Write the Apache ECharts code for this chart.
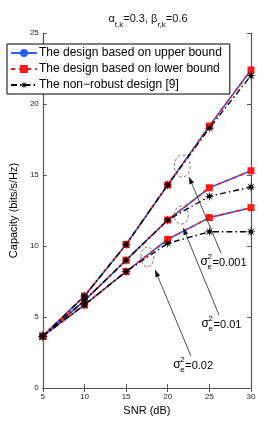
<!DOCTYPE html>
<html><head><meta charset="utf-8">
<script src="https://cdn.jsdelivr.net/npm/echarts@6/dist/echarts.min.js"></script>
<style>html,body{margin:0;padding:0;background:#fff}#c{width:277px;height:437px}</style>
</head><body><div id="c"></div>
<script>
const snr = [5, 10, 15, 20, 25, 30];
const xTicks = [5, 10, 15, 20, 25, 30];
const yTicks = [0, 5, 10, 15, 20, 25];
// sigma_e^2 = 0.001
const upperA = [3.65, 6.48, 10.1, 14.3, 18.45, 22.4];
const lowerA = [3.65, 6.48, 10.1, 14.3, 18.45, 22.4];
const nonA   = [3.65, 6.48, 10.1, 14.3, 18.3, 22.0];
// sigma_e^2 = 0.01
const upperB = [3.65, 6.15, 9.0, 11.83, 14.1, 15.3];
const lowerB = [3.65, 6.15, 9.0, 11.83, 14.1, 15.3];
const nonB   = [3.65, 6.15, 9.0, 11.83, 13.5, 14.15];
// sigma_e^2 = 0.02
const upperC = [3.65, 5.85, 8.2, 10.47, 12.0, 12.7];
const lowerC = [3.65, 5.85, 8.2, 10.47, 12.0, 12.7];
const nonC   = [3.65, 5.85, 8.2, 10.19, 11.0, 11.0];

const names = ['The design based on upper bound', 'The design based on lower bound', 'The non\u2212robust design [9]'];

// annotations in data coordinates
const ellipses = [
  {x: 21.74, y: 15.63, rx: 8, ry: 11},
  {x: 21.63, y: 12.18, rx: 7, ry: 9},
  {x: 17.56, y: 9.23, rx: 6.5, ry: 10}
];
const arrows = [
  {from: [26.4, 9.5], to: [22.56, 14.86]},
  {from: [26.16, 5.14], to: [21.86, 11.27]},
  {from: [22.79, 2.25], to: [18.49, 8.31]}
];
const labels = [
  {x: 23.95, y: 8.87, v: '0.001'},
  {x: 24.07, y: 4.5, v: '0.01'},
  {x: 20.66, y: 1.62, v: '0.02'}
];

const star = (function(){
  let p = 'path://';
  const n = 8, R = 10, r = 3.4;
  for (let i = 0; i < 2*n; i++) {
    const a = Math.PI * i / n - Math.PI/2;
    const rad = i % 2 === 0 ? R : r;
    p += (i === 0 ? 'M' : 'L') + (10 + rad*Math.cos(a)).toFixed(2) + ' ' + (10 + rad*Math.sin(a)).toFixed(2) + ' ';
  }
  return p + 'Z';
})();

function pts(arr){ return snr.map((x,i)=>[x, arr[i]]); }

function upper(arr){
  return {name: names[0], type:'line', data: pts(arr), symbol:'circle', symbolSize:6,
    itemStyle:{color:'#2e5bff'}, lineStyle:{color:'#2e5bff', width:1.6, type:'solid'}, z:2, animation:false};
}
function lower(arr){
  return {name: names[1], type:'line', data: pts(arr), symbol:'rect', symbolSize:7,
    itemStyle:{color:'#ff1a1a'}, lineStyle:{color:'#ff1a1a', width:1.6, type:[4,4]}, z:3, animation:false};
}
function nonr(arr){
  return {name: names[2], type:'line', data: pts(arr), symbol: star, symbolSize:10,
    itemStyle:{color:'#000'}, lineStyle:{color:'#000', width:1.4, type:[6,3,1.5,3]}, z:4, animation:false};
}

const axisCommon = {
  axisLine:{lineStyle:{color:'#555', width:1.2}},
  axisTick:{inside:true, length:4, lineStyle:{color:'#555'}},
  splitLine:{show:false},
  axisLabel:{fontSize:8, color:'#222', fontFamily:'Liberation Sans'}
};

const option = {
  animation:false,
  backgroundColor:'#fff',
  title:{
    text:'{m|\u03b1}{s|t,k}{m|=0.3, \u03b2}{s|r,k}{m|=0.6}',
    left: 143, top: 8, textAlign:'center',
    textStyle:{fontWeight:'normal', rich:{
      m:{fontSize:11, fontWeight:'normal', fontFamily:'Liberation Sans', color:'#111', lineHeight:16, verticalAlign:'top'},
      s:{fontSize:8, fontWeight:'normal', fontFamily:'Liberation Sans', color:'#111', lineHeight:16, verticalAlign:'bottom', padding:[6,0,0,0]}
    }}
  },
  grid:{left:36, right:26, top:33, bottom:49, containLabel:false},
  legend:{
    orient:'vertical', left:7, top:44, width:220,
    backgroundColor:'#fff', borderColor:'#000', borderWidth:1, borderRadius:0,
    padding:[3,8,3,3], itemGap:4, itemWidth:26, itemHeight:10,
    textStyle:{fontSize:12, fontFamily:'Liberation Sans', color:'#000', padding:[0,0,0,-3]},
    data: names
  },
  xAxis:[
    Object.assign({}, axisCommon, {type:'value', min:5, max:30, interval:5, position:'bottom',
      name:'SNR (dB)', nameLocation:'middle', nameGap:17, nameTextStyle:{fontSize:11, fontFamily:'Liberation Sans', color:'#000'},
      axisLabel:{fontSize:8, color:'#222', fontFamily:'Liberation Sans', margin:5}}),
    Object.assign({}, axisCommon, {type:'value', min:5, max:30, interval:5, position:'top', axisLabel:{show:false}})
  ],
  yAxis:[
    Object.assign({}, axisCommon, {type:'value', min:0, max:25, interval:5, position:'left',
      name:'Capacity (bits/s/Hz)', nameLocation:'middle', nameGap:18, nameTextStyle:{fontSize:11, fontFamily:'Liberation Sans', color:'#000'},
      axisLabel:{fontSize:8, color:'#222', fontFamily:'Liberation Sans', margin:4}}),
    Object.assign({}, axisCommon, {type:'value', min:0, max:25, interval:5, position:'right', axisLabel:{show:false}})
  ],
  series:[
    upper(upperA), lower(lowerA), nonr(nonA),
    upper(upperB), lower(lowerB), nonr(nonB),
    upper(upperC), lower(lowerC), nonr(nonC)
  ]
};

const chart = echarts.init(document.getElementById('c'), null, {renderer:'canvas'});
chart.setOption(option);

function px(x, y){ return chart.convertToPixel({xAxisIndex:0, yAxisIndex:0}, [x, y]); }
const g = [];
ellipses.forEach(e => {
  const p = px(e.x, e.y);
  g.push({type:'ellipse', shape:{cx:p[0], cy:p[1], rx:e.rx, ry:e.ry}, style:{fill:null, stroke:'#555', lineWidth:0.8, lineDash:[3,2]}, z:10});
});
arrows.forEach(a => {
  const p1 = px(a.from[0], a.from[1]);
  const p2 = px(a.to[0], a.to[1]);
  g.push({type:'line', shape:{x1:p1[0], y1:p1[1], x2:p2[0], y2:p2[1]}, style:{stroke:'#222', lineWidth:0.8}, z:10});
  const dx = p2[0]-p1[0], dy = p2[1]-p1[1], L = Math.hypot(dx, dy);
  const ux = dx/L, uy = dy/L, h = 7, w = 2.5;
  const bx = p2[0]-ux*h, by = p2[1]-uy*h;
  g.push({type:'polygon', shape:{points:[[p2[0],p2[1]],[bx-uy*w, by+ux*w],[bx+uy*w, by-ux*w]]}, style:{fill:'#111'}, z:10});
});
labels.forEach(l => {
  const p = px(l.x, l.y);
  const f = 'Liberation Sans';
  g.push({type:'text', x:p[0], y:p[1], style:{text:'\u03c3', fontSize:12, fontFamily:f, fill:'#000', verticalAlign:'middle', align:'left'}, z:10});
  g.push({type:'text', x:p[0]+7, y:p[1]-5, style:{text:'2', fontSize:8, fontFamily:f, fill:'#000', verticalAlign:'middle', align:'left'}, z:10});
  g.push({type:'text', x:p[0]+7, y:p[1]+5, style:{text:'e', fontSize:8, fontFamily:f, fill:'#000', verticalAlign:'middle', align:'left'}, z:10});
  g.push({type:'text', x:p[0]+12, y:p[1]+1, style:{text:'='+l.v, fontSize:11, fontFamily:f, fill:'#000', verticalAlign:'middle', align:'left'}, z:10});
});
chart.setOption({graphic: g});
</script></body></html>
